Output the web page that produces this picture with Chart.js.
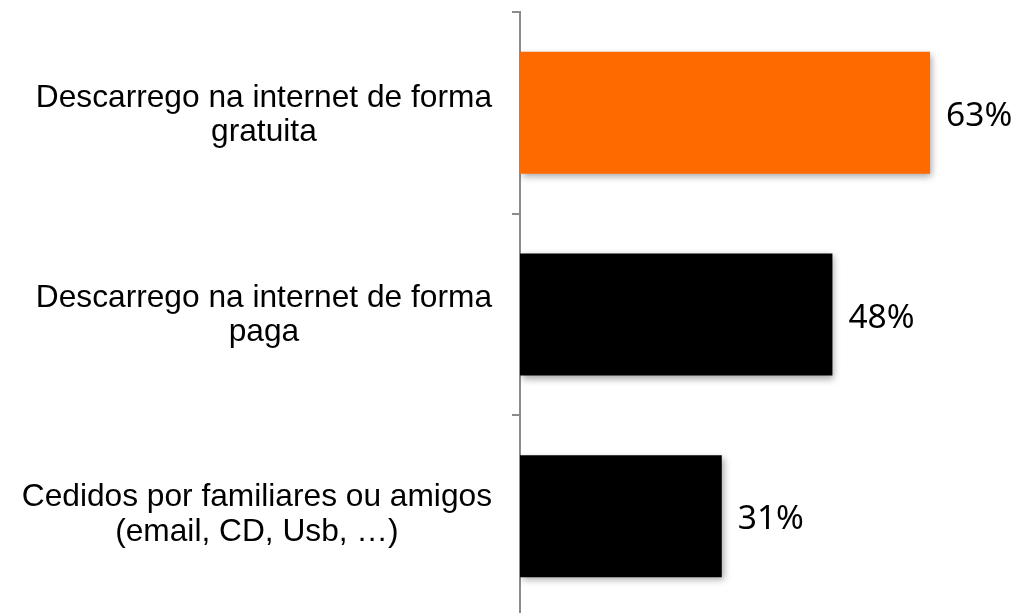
<!DOCTYPE html>
<html>
<head>
<meta charset="utf-8">
<script src="https://cdn.jsdelivr.net/npm/chart.js@4.4.1/dist/chart.umd.min.js"></script>
<style>
  html, body { margin: 0; padding: 0; background: #ffffff; overflow: hidden; }
  #wrap { width: 1029px; height: 617px; position: relative; }
</style>
</head>
<body>
<div id="wrap"><canvas id="chart"></canvas></div>
<script>
const categories = [
  ["Descarrego na internet de forma", "gratuita"],
  ["Descarrego na internet de forma", "paga"],
  ["Cedidos por familiares ou amigos", "(email, CD, Usb, …)"],
];
const shares = [63, 48, 31];
const barColors = ["#FF6A00", "#000000", "#000000"];

const AXIS_COLOR = "#8c8c8c";
const LABEL_FONT = "31.7px 'Liberation Sans', Arial, sans-serif";
const VALUE_FONT = "33.5px 'Noto Sans', 'DejaVu Sans', sans-serif";

// soft drop shadow behind the bars
const barShadow = {
  id: "barShadow",
  beforeDatasetsDraw(chart) {
    const ctx = chart.ctx;
    ctx.save();
    ctx.shadowColor = "rgba(0, 0, 0, 0.35)";
    ctx.shadowBlur = 7;
    ctx.shadowOffsetX = 2;
    ctx.shadowOffsetY = 3;
  },
  afterDatasetsDraw(chart) {
    chart.ctx.restore();
  },
};

// category labels: block right-aligned, lines centred on each other
const categoryLabels = {
  id: "categoryLabels",
  afterDraw(chart) {
    const ctx = chart.ctx;
    const yScale = chart.scales.y;
    const rightEdge = 492;
    ctx.save();
    ctx.font = LABEL_FONT;
    ctx.fillStyle = "#000000";
    ctx.textAlign = "center";
    ctx.textBaseline = "alphabetic";
    categories.forEach(function (lines, i) {
      const yc = yScale.getPixelForValue(i);
      const widest = Math.max.apply(null, lines.map((l) => ctx.measureText(l).width));
      const cx = rightEdge - widest / 2;
      const base = yc - 6 - i * 2;
      ctx.fillText(lines[0], cx, base);
      ctx.fillText(lines[1], cx, base + 34.5);
    });
    ctx.restore();
  },
};

// percentage labels to the right of each bar
const valueLabels = {
  id: "valueLabels",
  afterDraw(chart) {
    const ctx = chart.ctx;
    const meta = chart.getDatasetMeta(0);
    ctx.save();
    ctx.font = VALUE_FONT;
    ctx.fillStyle = "#000000";
    ctx.textAlign = "left";
    ctx.textBaseline = "alphabetic";
    meta.data.forEach(function (bar, i) {
      ctx.fillText(shares[i] + "%", bar.x + 16, bar.y + 13);
    });
    ctx.restore();
  },
};

function createChart() {
  const canvas = document.getElementById("chart");
  new Chart(canvas.getContext("2d"), {
    type: "bar",
    data: {
      labels: categories,
      datasets: [
        {
          data: shares,
          backgroundColor: barColors,
          borderWidth: 0,
          categoryPercentage: 1,
          barPercentage: 0.605,
        },
      ],
    },
    options: {
      indexAxis: "y",
      responsive: true,
      maintainAspectRatio: false,
      animation: false,
      layout: {
        padding: { top: 12, right: 0, bottom: 0, left: 0 },
      },
      plugins: {
        legend: { display: false },
        tooltip: { enabled: false },
      },
      scales: {
        x: {
          display: false,
          min: 0,
          max: 78.2,
        },
        y: {
          offset: true,
          afterFit: function (scale) {
            scale.width = 520;
          },
          ticks: { display: false },
          grid: {
            offset: true,
            drawOnChartArea: false,
            drawTicks: true,
            tickLength: 8,
            color: AXIS_COLOR,
            lineWidth: 2,
          },
          border: {
            display: true,
            color: AXIS_COLOR,
            width: 2,
          },
        },
      },
    },
    plugins: [barShadow, categoryLabels, valueLabels],
  });
}

window.addEventListener("DOMContentLoaded", createChart);
</script>
</body>
</html>
